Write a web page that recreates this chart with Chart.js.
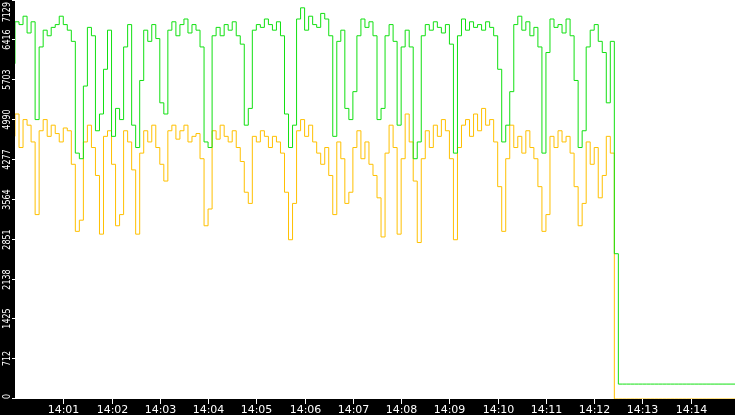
<!DOCTYPE html>
<html>
<head>
<meta charset="utf-8">
<script src="https://cdn.jsdelivr.net/npm/chart.js@4"></script>
<style>
  html, body { margin: 0; padding: 0; background: #000; }
  #wrap { width: 735px; height: 415px; }
</style>
</head>
<body>
<div id="wrap"><canvas id="c"></canvas></div>
<script>
// samples every 5 s starting 14:00:00
const stepSec = 5;
const yTicks = [0, 712, 1425, 2138, 2851, 3564, 4277, 4990, 5703, 6416, 7129];
const xTickLabels = ['14:01','14:02','14:03','14:04','14:05','14:06','14:07','14:08','14:09','14:10','14:11','14:12','14:13','14:14'];

const greenVals = [
  6000,6750,6700,6850,6550,6750,5000,6300,6600,6500,
  6650,6700,6850,6700,6600,6400,4400,4300,5600,6650,
  6500,4800,5100,5900,6600,4700,5200,5000,6300,6700,
  4900,4500,5700,6600,6400,6700,6450,5300,5100,6600,
  6750,6500,6700,6800,6550,6700,6600,6300,4600,4500,
  6500,6650,6500,6700,6600,6750,6500,6350,4900,5200,
  6600,6700,6650,6800,6700,6600,6750,6500,5100,4500,
  4900,6800,7000,6600,6850,6700,6650,6900,6800,6500,
  4700,6400,6600,5200,5000,5500,6500,6800,6650,6750,
  6500,5000,5200,6500,6700,6400,4900,6300,6600,6300,
  4300,4600,6500,6700,6600,6750,6650,6550,6700,6350,
  4400,6500,6800,6600,6750,6650,6700,6600,6750,6650,
  6500,5900,4600,4900,5500,6700,6850,6600,6750,6500,
  6650,6300,4400,6200,6800,6650,6700,6550,6800,6500,
  5700,4500,4800,6300,6600,6700,6400,6200,5300,6400,
  2600,
  267,267,267,267,267,267,267,267,267,267,
  267,267,267,267,267,267,267,267,267,267,
  267,267,267,267,267,267,267,267,267
];

const yellowVals = [
  4700,5100,4500,5000,4900,4600,3300,4800,5000,4700,
  4900,4750,4600,4850,4800,4200,3000,3200,4600,4900,
  4500,4000,2950,4700,4800,4200,3100,3300,4800,4600,
  4100,2950,4400,4800,4600,4900,4500,4200,3900,4800,
  4900,4650,4800,4900,4600,4700,4750,4300,3100,3400,
  4800,4650,4900,4700,4600,4800,4500,4250,3700,3500,
  4700,4600,4800,4700,4500,4700,4600,4400,3700,2850,
  3500,4800,5000,4700,4900,4600,4400,4200,4500,4000,
  3300,4600,4300,3500,3700,4500,4800,4300,4600,4200,
  4000,3600,2900,4400,4900,4500,2950,4300,5100,4600,
  3900,2800,4300,4800,4500,4900,4700,5000,4800,4300,
  2850,4500,4900,5000,4700,5100,4800,5200,4900,5000,
  4600,3800,3000,4300,4900,4500,4700,4400,4800,4500,
  4300,3800,3000,3300,4700,4500,4800,4600,4700,4400,
  3800,3100,3500,4600,4200,4500,3600,4000,4700,4400,
  0,
  0,0,0,0,0,0,0,0,0,0,
  0,0,0,0,0,0,0,0,0,0,
  0,0,0,0,0,0,0,0,0
];

const toPts = arr => arr.map((v, i) => ({ x: i * stepSec, y: v }));

const frame = {
  id: 'frame',
  beforeDraw(chart) {
    const { ctx, chartArea: a } = chart;
    ctx.save();
    ctx.fillStyle = '#000';
    ctx.fillRect(0, 0, chart.width, chart.height);
    ctx.fillStyle = '#fff';
    ctx.fillRect(a.left, a.top, a.right - a.left, a.bottom - a.top);
    ctx.restore();
  },
  afterDraw(chart) {
    const { ctx, chartArea: a } = chart;
    const ys = chart.scales.y, xs = chart.scales.x;
    ctx.save();
    ctx.strokeStyle = '#fff';
    ctx.fillStyle = '#fff';
    ctx.lineWidth = 1;
    // y ticks, rotated labels centred on the tick
    ctx.font = '10px "DejaVu Sans"';
    yTicks.forEach(v => {
      const py = Math.round(ys.getPixelForValue(v)) - 0.5;
      ctx.beginPath();
      ctx.moveTo(a.left - 3, py); ctx.lineTo(a.left, py);
      ctx.stroke();
      const txt = String(v);
      const w = ctx.measureText(txt).width * 0.8;
      let start = py + w / 2;
      start = Math.max(start, w + 2);
      start = Math.min(start, a.bottom);
      ctx.save();
      ctx.translate(7, start);
      ctx.rotate(-Math.PI / 2);
      ctx.scale(0.8, 1);
      ctx.textAlign = 'left';
      ctx.textBaseline = 'middle';
      ctx.fillText(txt, 0, 0);
      ctx.restore();
    });
    // x ticks
    ctx.font = '11px "DejaVu Sans"';
    ctx.textAlign = 'center';
    ctx.textBaseline = 'top';
    xTickLabels.forEach((lab, i) => {
      const px = Math.round(xs.getPixelForValue((i + 1) * 60)) + 0.5;
      ctx.beginPath();
      ctx.moveTo(px, a.bottom); ctx.lineTo(px, a.bottom + 5);
      ctx.stroke();
      ctx.fillText(lab, px, a.bottom + 6);
    });
    ctx.restore();
  }
};

new Chart(document.getElementById('c'), {
  type: 'line',
  data: {
    datasets: [
      { data: toPts(greenVals), borderColor: '#11e011', borderWidth: 1, pointRadius: 0, stepped: 'after' },
      { data: toPts(yellowVals), borderColor: '#ffc000', borderWidth: 1, pointRadius: 0, stepped: 'after' }
    ]
  },
  options: {
    responsive: true, maintainAspectRatio: false, animation: false,
    layout: { padding: 0 },
    plugins: { legend: { display: false }, tooltip: { enabled: false } },
    scales: {
      x: {
        type: 'linear', min: 0, max: 895,
        ticks: { display: false }, grid: { display: false }, border: { display: false },
        afterFit: s => { s.height = 16; }
      },
      y: {
        min: 0, max: 7140,
        ticks: { display: false }, grid: { display: false }, border: { display: false },
        afterFit: s => { s.width = 15; }
      }
    }
  },
  plugins: [frame]
});
</script>
</body>
</html>
